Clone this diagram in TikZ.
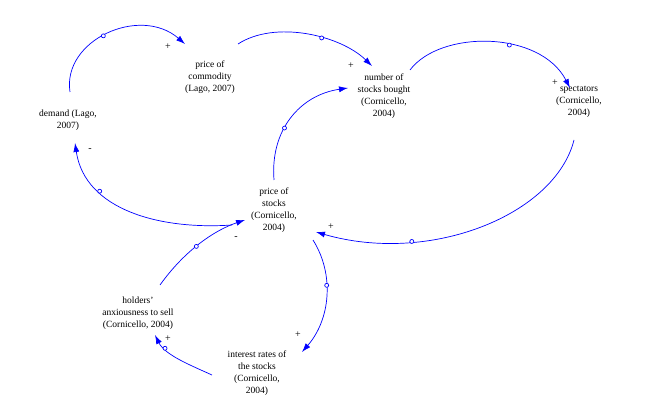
\documentclass[tikz,border=0pt]{standalone}
\usepackage{fontspec}
\setmainfont{Liberation Serif}
\usetikzlibrary{arrows.meta}
\begin{document}
\begin{tikzpicture}[x=1pt,y=-1pt,
  var/.style={align=center,font=\fontsize{9.5}{12}\selectfont,inner sep=1pt},
  lnk/.style={draw={rgb,255:red,0;green,0;blue,255},line width=0.7pt,-{Latex[length=9pt,width=6pt]}},
  circ/.style={circle,draw={rgb,255:red,0;green,0;blue,255},fill=white,inner sep=0pt,minimum size=4pt},
  sgn/.style={font=\fontsize{10}{10}\selectfont,inner sep=0pt}]
\useasboundingbox (0,0) rectangle (645,419);
\node[var] (dem) at (68,120) {demand (Lago,\\2007)};
\node[var] (poc) at (210,77) {price of\\commodity\\(Lago, 2007)};
\node[var] (nsb) at (384,96) {number of\\stocks bought\\(Cornicello,\\2004)};
\node[var] (spe) at (579,102) {spectators\\(Cornicello,\\2004)};
\node[var] (pos) at (274,210) {price of\\stocks\\(Cornicello,\\2004)};
\node[var] (hol) at (138,313) {holders'\\anxiousness to sell\\(Cornicello, 2004)};
\node[var] (int) at (257,373) {interest rates of\\the stocks\\(Cornicello,\\2004)};
\coordinate (a1) at (70,92);
\coordinate (a2) at (238,44);
\coordinate (a3) at (410,70);
\coordinate (a4) at (574,140);
\coordinate (a5) at (274,180);
\coordinate (a6) at (232,225);
\coordinate (a7) at (160,285);
\coordinate (a8) at (313,240);
\coordinate (a9) at (212,375);
\draw[lnk] (a1) .. controls (62,40) and (140,5) .. node[pos=0.47,circ]{} (185,44);
\draw[lnk] (a2) .. controls (275,20) and (340,35) .. node[pos=0.6,circ]{} (372,66);
\draw[lnk] (a3) .. controls (440,30) and (540,30) .. node[pos=0.6,circ]{} (570,88);
\draw[lnk] (a4) .. controls (555,215) and (430,265) .. node[pos=0.72,circ]{} (316,232);
\draw[lnk] (a5) .. controls (270,130) and (300,95) .. node[pos=0.4,circ]{} (348,88);
\draw[lnk] (a6) .. controls (160,230) and (85,210) .. node[pos=0.7,circ]{} (75,143);
\draw[lnk] (a7) .. controls (185,250) and (215,230) .. node[pos=0.45,circ]{} (245,220);
\draw[lnk] (a8) .. controls (335,275) and (330,320) .. node[pos=0.4,circ]{} (302,352);
\draw[lnk] (a9) .. controls (190,365) and (165,355) .. node[pos=0.75,circ]{} (155,335);
\node[sgn] (s1) at (168,47) {+};
\node[sgn] (s2) at (351,66) {+};
\node[sgn] (s3) at (555,83) {+};
\node[sgn] (s4) at (331,227) {+};
\node[sgn] (s6) at (90,150) {-};
\node[sgn] (s7) at (236,238) {-};
\node[sgn] (s8) at (298,335) {+};
\node[sgn] (s9) at (168,339) {+};
\end{tikzpicture}
\end{document}
